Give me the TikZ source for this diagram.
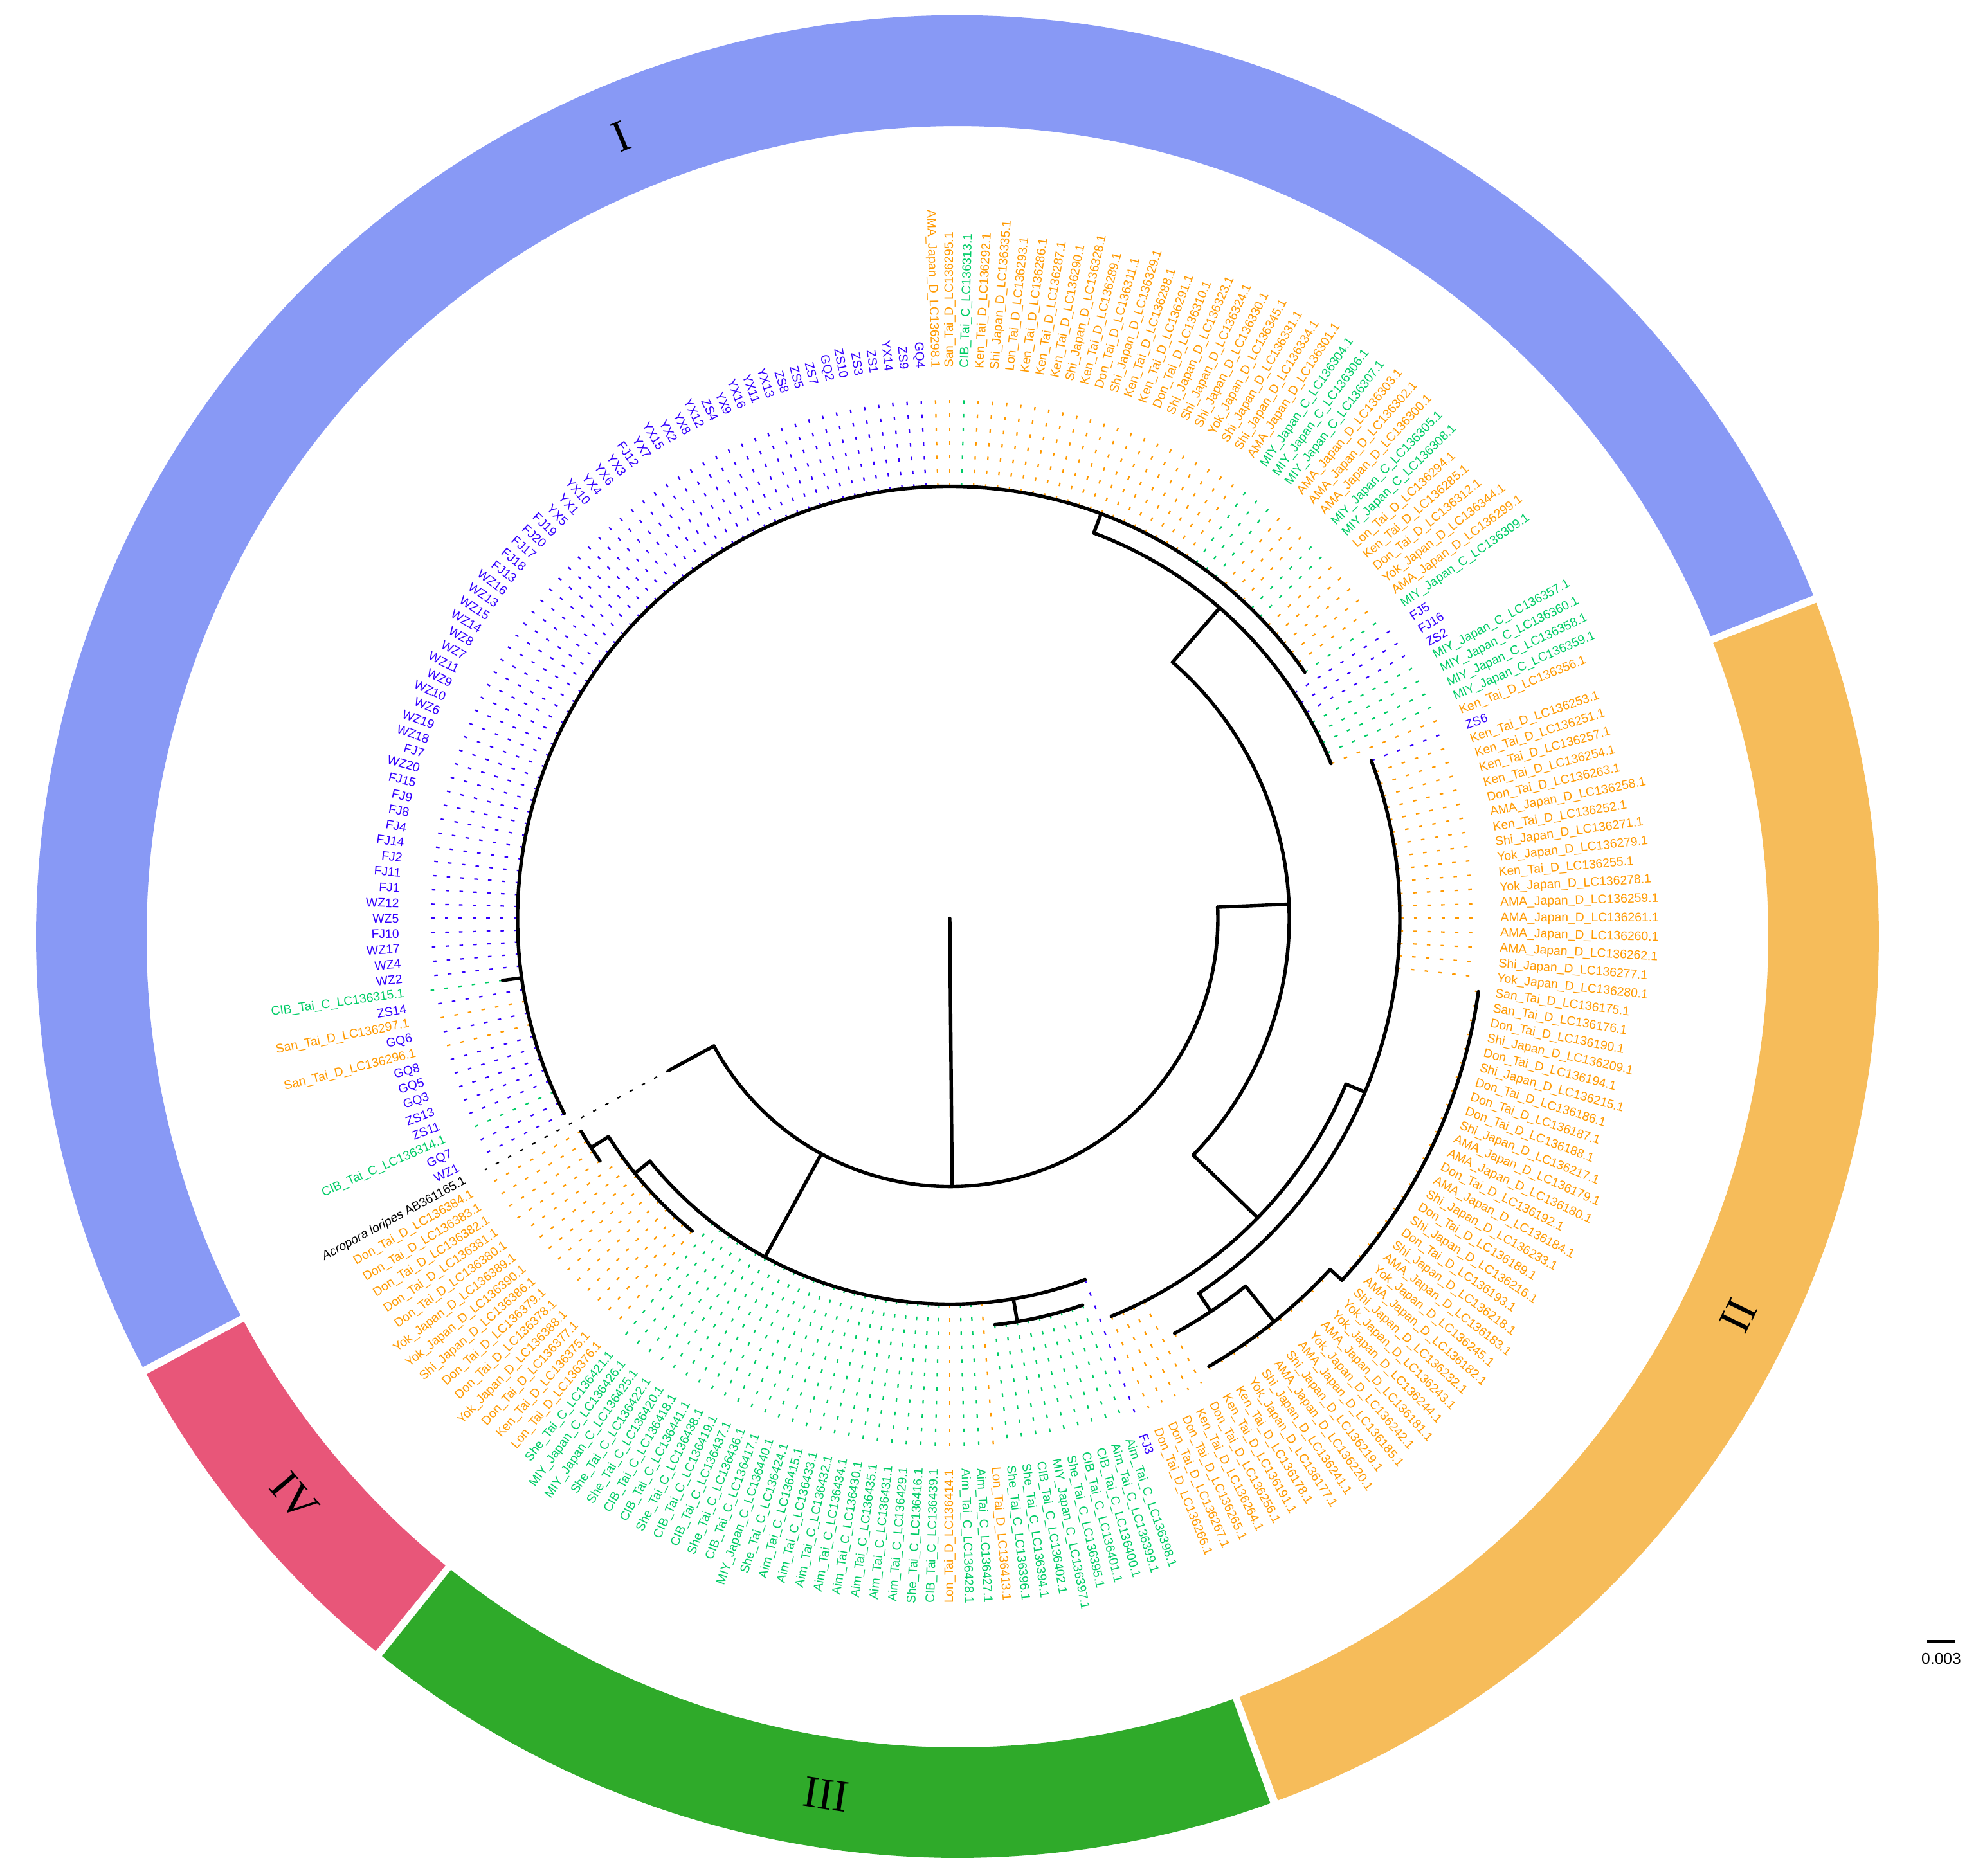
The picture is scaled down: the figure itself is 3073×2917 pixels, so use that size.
\documentclass[tikz,border=0pt]{standalone}
\usepackage{fontspec}
\setmainfont{Liberation Serif}
\setsansfont{Liberation Sans}
\usetikzlibrary{calc}
\definecolor{labO}{HTML}{FF9900}
\definecolor{labG}{HTML}{00CC66}
\definecolor{labB}{HTML}{3300FF}
\definecolor{ringI}{HTML}{8899F5}
\definecolor{ringII}{HTML}{F6BC5A}
\definecolor{ringIII}{HTML}{2FAA2A}
\definecolor{ringIV}{HTML}{E85679}
\newcommand\acc[4]{#1\_#2\_#3\_LC136#4.1}
\tikzset{
  leaf/.style={font=\sffamily\fontsize{5.5}{6}\selectfont,inner sep=0pt},
  guide/.style={line width=0.022cm,dash pattern=on 0.055cm off 0.16cm},
  branch/.style={line width=0.054cm,line cap=round},
  clade/.style={font=\fontsize{20}{22}\selectfont},
}
\begin{document}
\begin{tikzpicture}[x=0.01cm,y=0.01cm]
\useasboundingbox (-1477,-1488.5) rectangle (1596,1428.5);
% ring of the four groups
\coordinate (rc) at (12,-28.5);
\foreach \from/\to/\col in {208.1/21.5/ringI,21.5/-69.9/ringII,-69.9/-128.9/ringIII,-128.9/-151.9/ringIV}{
  \fill[\col] ($(rc)+(\from-0.25:1261)$) arc[start angle=\from-0.25,end angle=\to+0.25,radius=1261]
    -- ($(rc)+(\to+0.25:1433)$) arc[start angle=\to+0.25,end angle=\from-0.25,radius=1433] -- cycle;
}
\node[clade,rotate=202.8] (cI) at ($(rc)+(112.8:1350)$) {I};
\node[clade,rotate=64.1] (cII) at ($(rc)+(-25.9:1350)$) {II};
\node[clade,rotate=-8.7] (cIII) at ($(rc)+(-98.7:1350)$) {III};
\node[clade,rotate=310.2] (cIV) at ($(rc)+(220.2:1350)$) {IV};
% leaves
\foreach \txt/\col/\tip [count=\i] in {
\acc{San}{Tai}{D}{295}/labO/672,\acc{CIB}{Tai}{C}{313}/labG/672,\acc{Ken}{Tai}{D}{292}/labO/672,
\acc{Shi}{Japan}{D}{335}/labO/672,\acc{Lon}{Tai}{D}{293}/labO/672,\acc{Ken}{Tai}{D}{286}/labO/672,
\acc{Ken}{Tai}{D}{287}/labO/672,\acc{Ken}{Tai}{D}{290}/labO/672,\acc{Shi}{Japan}{D}{328}/labO/672,
\acc{Ken}{Tai}{D}{289}/labO/672,\acc{Don}{Tai}{D}{311}/labO/672,\acc{Shi}{Japan}{D}{329}/labO/672,
\acc{Ken}{Tai}{D}{288}/labO/672,\acc{Ken}{Tai}{D}{291}/labO/672,\acc{Don}{Tai}{D}{310}/labO/672,
\acc{Shi}{Japan}{D}{323}/labO/672,\acc{Shi}{Japan}{D}{324}/labO/672,\acc{Shi}{Japan}{D}{330}/labO/672,
\acc{Yok}{Japan}{D}{345}/labO/672,\acc{Shi}{Japan}{D}{331}/labO/672,\acc{Shi}{Japan}{D}{334}/labO/672,
\acc{AMA}{Japan}{D}{301}/labO/672,\acc{MIY}{Japan}{C}{304}/labG/672,\acc{MIY}{Japan}{C}{306}/labG/672,
\acc{MIY}{Japan}{C}{307}/labG/672,\acc{AMA}{Japan}{D}{303}/labO/672,\acc{AMA}{Japan}{D}{302}/labO/672,
\acc{AMA}{Japan}{D}{300}/labO/672,\acc{MIY}{Japan}{C}{305}/labG/672,\acc{MIY}{Japan}{C}{308}/labG/672,
\acc{Lon}{Tai}{D}{294}/labO/672,\acc{Ken}{Tai}{D}{285}/labO/672,\acc{Don}{Tai}{D}{312}/labO/672,
\acc{Yok}{Japan}{D}{344}/labO/672,\acc{AMA}{Japan}{D}{299}/labO/672,\acc{MIY}{Japan}{C}{309}/labG/672,
FJ5/labB/640,FJ16/labB/640,ZS2/labB/640,
\acc{MIY}{Japan}{C}{357}/labG/640,\acc{MIY}{Japan}{C}{360}/labG/640,\acc{MIY}{Japan}{C}{358}/labG/640,
\acc{MIY}{Japan}{C}{359}/labG/640,\acc{Ken}{Tai}{D}{356}/labO/640,
ZS6/labB/700,
\acc{Ken}{Tai}{D}{253}/labO/700,\acc{Ken}{Tai}{D}{251}/labO/700,\acc{Ken}{Tai}{D}{257}/labO/700,
\acc{Ken}{Tai}{D}{254}/labO/700,\acc{Don}{Tai}{D}{263}/labO/700,\acc{AMA}{Japan}{D}{258}/labO/700,
\acc{Ken}{Tai}{D}{252}/labO/700,\acc{Shi}{Japan}{D}{271}/labO/700,\acc{Yok}{Japan}{D}{279}/labO/700,
\acc{Ken}{Tai}{D}{255}/labO/700,\acc{Yok}{Japan}{D}{278}/labO/700,\acc{AMA}{Japan}{D}{259}/labO/700,
\acc{AMA}{Japan}{D}{261}/labO/700,\acc{AMA}{Japan}{D}{260}/labO/700,\acc{AMA}{Japan}{D}{262}/labO/700,
\acc{Shi}{Japan}{D}{277}/labO/700,\acc{Yok}{Japan}{D}{280}/labO/700,
\acc{San}{Tai}{D}{175}/labO/830,\acc{San}{Tai}{D}{176}/labO/830,\acc{Don}{Tai}{D}{190}/labO/830,
\acc{Shi}{Japan}{D}{209}/labO/830,\acc{Don}{Tai}{D}{194}/labO/830,\acc{Shi}{Japan}{D}{215}/labO/830,
\acc{Don}{Tai}{D}{186}/labO/830,\acc{Don}{Tai}{D}{187}/labO/830,\acc{Don}{Tai}{D}{188}/labO/830,
\acc{Shi}{Japan}{D}{217}/labO/830,\acc{AMA}{Japan}{D}{179}/labO/830,\acc{AMA}{Japan}{D}{180}/labO/830,
\acc{Don}{Tai}{D}{192}/labO/830,\acc{AMA}{Japan}{D}{184}/labO/830,\acc{Shi}{Japan}{D}{233}/labO/830,
\acc{Don}{Tai}{D}{189}/labO/830,\acc{Shi}{Japan}{D}{216}/labO/830,\acc{Don}{Tai}{D}{193}/labO/830,
\acc{Shi}{Japan}{D}{218}/labO/830,\acc{AMA}{Japan}{D}{183}/labO/830,\acc{Yok}{Japan}{D}{245}/labO/830,
\acc{AMA}{Japan}{D}{182}/labO/830,\acc{Shi}{Japan}{D}{232}/labO/830,\acc{Yok}{Japan}{D}{243}/labO/805,
\acc{Yok}{Japan}{D}{244}/labO/805,\acc{AMA}{Japan}{D}{181}/labO/805,\acc{Yok}{Japan}{D}{242}/labO/805,
\acc{AMA}{Japan}{D}{185}/labO/805,\acc{Shi}{Japan}{D}{219}/labO/805,\acc{AMA}{Japan}{D}{220}/labO/805,
\acc{Shi}{Japan}{D}{241}/labO/805,\acc{Yok}{Japan}{D}{177}/labO/805,\acc{Ken}{Tai}{D}{178}/labO/805,
\acc{Ken}{Tai}{D}{191}/labO/805,\acc{Don}{Tai}{D}{256}/labO/734,\acc{Ken}{Tai}{D}{264}/labO/668,
\acc{Don}{Tai}{D}{265}/labO/668,\acc{Don}{Tai}{D}{267}/labO/668,\acc{Don}{Tai}{D}{266}/labO/668,
FJ3/labB/600,
\acc{Aim}{Tai}{C}{398}/labG/636,\acc{Aim}{Tai}{C}{399}/labG/636,\acc{CIB}{Tai}{C}{400}/labG/636,
\acc{CIB}{Tai}{C}{401}/labG/636,\acc{She}{Tai}{C}{395}/labG/636,\acc{MIY}{Japan}{C}{397}/labG/636,
\acc{CIB}{Tai}{C}{402}/labG/636,\acc{She}{Tai}{C}{394}/labG/636,\acc{She}{Tai}{C}{396}/labG/636,
\acc{Lon}{Tai}{D}{413}/labO/600,\acc{Aim}{Tai}{C}{427}/labG/600,\acc{Aim}{Tai}{C}{428}/labG/600,
\acc{Lon}{Tai}{D}{414}/labO/600,\acc{CIB}{Tai}{C}{439}/labG/600,\acc{She}{Tai}{C}{416}/labG/600,
\acc{Aim}{Tai}{C}{429}/labG/600,\acc{Aim}{Tai}{C}{431}/labG/600,\acc{Aim}{Tai}{C}{435}/labG/600,
\acc{Aim}{Tai}{C}{430}/labG/600,\acc{Aim}{Tai}{C}{434}/labG/600,\acc{Aim}{Tai}{C}{432}/labG/600,
\acc{Aim}{Tai}{C}{433}/labG/600,\acc{Aim}{Tai}{C}{415}/labG/600,\acc{She}{Tai}{C}{424}/labG/600,
\acc{MIY}{Japan}{C}{440}/labG/600,\acc{CIB}{Tai}{C}{417}/labG/600,\acc{She}{Tai}{C}{436}/labG/600,
\acc{CIB}{Tai}{C}{437}/labG/600,\acc{CIB}{Tai}{C}{419}/labG/600,\acc{She}{Tai}{C}{438}/labG/600,
\acc{CIB}{Tai}{C}{441}/labG/600,\acc{CIB}{Tai}{C}{418}/labG/600,\acc{She}{Tai}{C}{420}/labG/600,
\acc{She}{Tai}{C}{422}/labG/600,\acc{MIY}{Japan}{C}{425}/labG/600,\acc{MIY}{Japan}{C}{426}/labG/600,
\acc{She}{Tai}{C}{421}/labG/600,
\acc{Lon}{Tai}{D}{376}/labO/630,\acc{Ken}{Tai}{D}{375}/labO/630,\acc{Don}{Tai}{D}{377}/labO/630,
\acc{Yok}{Japan}{D}{388}/labO/630,\acc{Don}{Tai}{D}{378}/labO/630,\acc{Don}{Tai}{D}{379}/labO/630,
\acc{Shi}{Japan}{D}{386}/labO/630,\acc{Yok}{Japan}{D}{390}/labO/630,\acc{Yok}{Japan}{D}{389}/labO/630,
\acc{Don}{Tai}{D}{380}/labO/630,\acc{Don}{Tai}{D}{381}/labO/662,\acc{Don}{Tai}{D}{382}/labO/662,
\acc{Don}{Tai}{D}{383}/labO/662,\acc{Don}{Tai}{D}{384}/labO/662,
\textit{Acropora loripes} AB361165.1/black/496,
WZ1/labB/672,GQ7/labB/672,\acc{CIB}{Tai}{C}{314}/labG/672,ZS11/labB/672,ZS13/labB/672,
GQ3/labB/672,GQ5/labB/672,GQ8/labB/672,\acc{San}{Tai}{D}{296}/labO/672,GQ6/labB/672,
\acc{San}{Tai}{D}{297}/labO/672,ZS14/labB/672,\acc{CIB}{Tai}{C}{315}/labG/702,
WZ2/labB/672,WZ4/labB/672,WZ17/labB/672,FJ10/labB/672,WZ5/labB/672,WZ12/labB/672,
FJ1/labB/672,FJ11/labB/672,FJ2/labB/672,FJ14/labB/672,FJ4/labB/672,FJ8/labB/672,
FJ9/labB/672,FJ15/labB/672,WZ20/labB/672,FJ7/labB/672,WZ18/labB/672,WZ19/labB/672,
WZ6/labB/672,WZ10/labB/672,WZ9/labB/672,WZ11/labB/672,WZ7/labB/672,WZ8/labB/672,
WZ14/labB/672,WZ15/labB/672,WZ13/labB/672,WZ16/labB/672,FJ13/labB/672,FJ18/labB/672,
FJ17/labB/672,FJ20/labB/672,FJ19/labB/672,YX5/labB/672,YX1/labB/672,YX10/labB/672,
YX4/labB/672,YX6/labB/672,YX3/labB/672,FJ12/labB/672,YX7/labB/672,YX15/labB/672,
YX2/labB/672,YX8/labB/672,YX12/labB/672,ZS4/labB/672,YX9/labB/672,YX16/labB/672,
YX11/labB/672,YX13/labB/672,ZS8/labB/672,ZS5/labB/672,ZS7/labB/672,GQ2/labB/672,
ZS10/labB/672,ZS3/labB/672,ZS1/labB/672,YX14/labB/672,ZS9/labB/672,GQ4/labB/672,
\acc{AMA}{Japan}{D}{298}/labO/672}{
  \pgfmathsetmacro\ang{90-(\i-1)*1.578947}
  \coordinate (tip\i) at (\ang:\tip);
  \ifnum\i<115
    \node[leaf,\col,anchor=west,rotate=\ang] (leaf\i) at (\ang:856) {\txt};
  \else
    \node[leaf,\col,anchor=east,rotate=\ang+180] (leaf\i) at (\ang:856) {\txt};
  \fi
  \draw[guide,\col] (tip\i) -- (\ang:822);
}
% tree
\coordinate (root) at (0,0);
\coordinate (n0) at (-89.5:417);
\draw[branch] (root) -- (n0);
\draw[branch] (208.42:417) arc[start angle=208.42,end angle=362.4,radius=417];
\draw[branch] (208.42:417) -- (tip154);
% bottom clade
\coordinate (nB) at (241.4:600);
\draw[branch] (241.4:417) -- (nB);
\draw[branch] (219:600) arc[start angle=219,end angle=290.53,radius=600];
\coordinate (nB1) at (-80.5:636);
\draw[branch] (-80.5:600) -- (nB1);
\draw[branch] (-71.05:636) arc[start angle=-71.05,end angle=-83.68,radius=636];
\coordinate (nL) at (219:630);
\draw[branch] (219:600) -- (nL);
\draw[branch] (212.6:630) arc[start angle=212.6,end angle=230.53,radius=630];
\coordinate (nL1) at (212.6:662);
\draw[branch] (212.6:630) -- (nL1);
\draw[branch] (210:662) arc[start angle=210,end angle=214.74,radius=662];
% right and upper clades
\coordinate (nR) at (2.4:528);
\draw[branch] (2.4:417) -- (nR);
\draw[branch] (49:528) arc[start angle=49,end angle=-44.2,radius=528];
\coordinate (nT) at (49:640);
\draw[branch] (49:528) -- (nT);
\draw[branch] (69.5:640) arc[start angle=69.5,end angle=22.1,radius=640];
\coordinate (nA) at (69.5:672);
\draw[branch] (69.5:640) -- (nA);
\draw[branch] (206.84:672) arc[start angle=206.84,end angle=34.74,radius=672];
\draw[branch] (187.9:672) -- (tip167);
\coordinate (nS) at (-44.2:668);
\draw[branch] (-44.2:528) -- (nS);
\draw[branch] (-22.7:668) arc[start angle=-22.7,end angle=-67.9,radius=668];
\coordinate (nZ) at (-22.7:700);
\draw[branch] (-22.7:668) -- (nZ);
\draw[branch] (20.53:700) arc[start angle=20.53,end angle=-56.4,radius=700];
\coordinate (nb) at (-56.4:734);
\draw[branch] (-56.4:700) -- (nb);
\draw[branch] (-51.2:734) arc[start angle=-51.2,end angle=-61.55,radius=734];
\coordinate (ng) at (-51.2:805);
\draw[branch] (-51.2:734) -- (ng);
\draw[branch] (-42.7:805) arc[start angle=-42.7,end angle=-59.97,radius=805];
\coordinate (nd) at (-42.7:830);
\draw[branch] (-42.7:805) -- (nd);
\draw[branch] (-7.9:830) arc[start angle=-7.9,end angle=-42.63,radius=830];
% scale bar
\coordinate (sbL) at (1520,-1125);
\coordinate (sbR) at (1564,-1125);
\draw[line width=0.05cm] (sbL) -- (sbR);
\node[font=\sffamily\fontsize{7}{8}\selectfont,inner sep=0pt,anchor=north] (sbar) at (1542,-1142) {0.003};
\end{tikzpicture}
\end{document}
